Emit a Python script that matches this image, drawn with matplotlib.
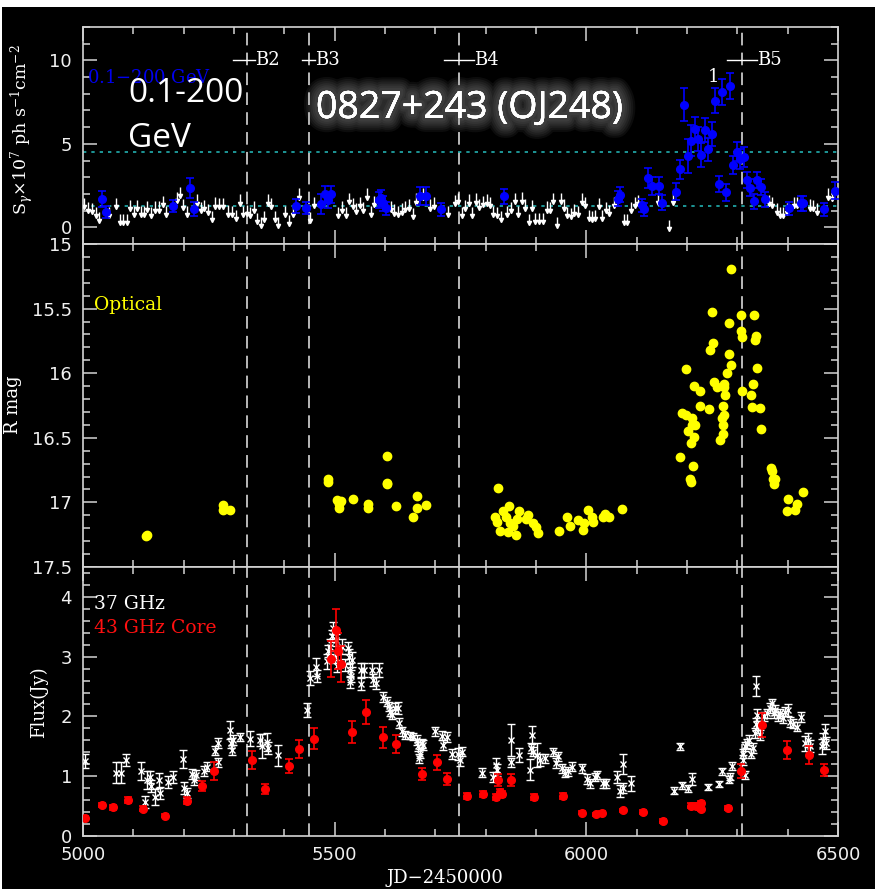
import matplotlib
matplotlib.use("Agg")
import matplotlib.pyplot as plt
import matplotlib.patheffects as pe
from matplotlib.patches import Rectangle
from matplotlib.ticker import MultipleLocator, FuncFormatter
import numpy as np

plt.rcParams['mathtext.fontset'] = 'dejavuserif'

# ---------------- gamma-ray (Fermi) detections ----------------
gam_jd = [5038, 5045, 5178, 5213, 5221, 5423, 5444, 5472, 5480, 5486,
          5492, 5588, 5593, 5597, 5601, 5669, 5682, 5711, 5836, 6062,
          6067, 6110, 6115, 6123, 6130, 6144, 6151, 6179, 6186, 6194,
          6201, 6207, 6215, 6221, 6228, 6235, 6242, 6249, 6256, 6263,
          6270, 6277, 6285, 6292, 6299, 6305, 6313, 6319, 6326, 6333,
          6340, 6347, 6354, 6403, 6426, 6431, 6473, 6495]
gam_s = [1.69, 0.92, 1.28, 2.35, 1.10, 1.27, 1.16, 1.42, 2.00, 1.63,
         1.97, 1.63, 1.75, 1.43, 1.13, 1.87, 1.87, 1.08, 1.87, 1.70,
         1.95, 1.32, 1.08, 2.97, 2.47, 2.49, 1.47, 2.13, 3.47, 7.35,
         4.28, 5.20, 5.88, 5.28, 4.34, 5.84, 4.68, 5.58, 7.59, 2.59,
         8.11, 2.09, 8.47, 3.73, 4.54, 4.08, 4.24, 2.83, 2.37, 1.55,
         2.83, 2.41, 1.69, 1.13, 1.43, 1.43, 1.07, 2.19]
gam_err = [0.48, 0.35, 0.35, 0.60, 0.40, 0.40, 0.35, 0.60, 0.50, 0.45,
           0.50, 0.50, 0.50, 0.45, 0.40, 0.55, 0.55, 0.40, 0.45, 0.45,
           0.45, 0.40, 0.40, 0.60, 0.55, 0.50, 0.45, 0.50, 0.55, 1.00,
           1.00, 0.90, 0.70, 0.70, 0.70, 0.70, 0.70, 0.70, 0.75, 0.50,
           0.80, 0.50, 0.80, 0.55, 0.55, 0.60, 0.60, 0.50, 0.50, 0.45,
           0.50, 0.50, 0.45, 0.40, 0.45, 0.45, 0.40, 0.50]

# gamma-ray upper limits
ul_jd = [5001, 5009, 5017, 5025, 5032, 5052, 5065, 5074, 5080, 5087,
         5093, 5101, 5108, 5115, 5122, 5128, 5136, 5143, 5150, 5158,
         5164, 5186, 5192, 5199, 5206, 5227, 5234, 5241, 5248, 5256,
         5262, 5270, 5278, 5289, 5297, 5304, 5312, 5318, 5325, 5332,
         5339, 5345, 5353, 5360, 5367, 5374, 5381, 5388, 5401, 5409,
         5417, 5430, 5451, 5458, 5507, 5514, 5522, 5529, 5536, 5542,
         5550, 5557, 5564, 5572, 5578, 5611, 5618, 5626, 5633, 5640,
         5647, 5655, 5662, 5675, 5689, 5697, 5725, 5739, 5746, 5752,
         5759, 5766, 5773, 5781, 5787, 5794, 5802, 5809, 5815, 5822,
         5830, 5842, 5850, 5858, 5864, 5872, 5879, 5886, 5892, 5899,
         5906, 5913, 5921, 5928, 5934, 5941, 5949, 5956, 5962, 5969,
         5976, 5984, 5991, 5997, 6005, 6011, 6018, 6026, 6032, 6039,
         6046, 6054, 6074, 6081, 6089, 6097, 6103, 6143, 6164, 6172,
         6362, 6368, 6378, 6385, 6391, 6398, 6413, 6418, 6444, 6451,
         6458, 6481, 6488]
ul_s = [1.77, 1.52, 1.48, 1.22, 0.92, 1.22, 1.77, 0.78, 0.78, 0.78,
        1.63, 1.27, 1.63, 1.27, 1.27, 1.57, 1.22, 1.55, 1.55, 1.87,
        1.27, 2.11, 2.43, 1.69, 1.29, 1.97, 1.52, 1.63, 1.41, 0.96,
        1.79, 1.77, 1.77, 1.31, 1.27, 1.06, 1.97, 1.27, 1.33, 1.22,
        1.55, 0.86, 0.62, 0.96, 1.97, 1.77, 0.96, 0.62, 1.27, 0.72,
        1.27, 2.33, 0.92, 1.83, 1.22, 1.55, 1.22, 2.07, 1.77, 1.47,
        1.83, 1.52, 2.33, 1.29, 1.87, 1.57, 1.37, 1.27, 1.43, 1.59,
        1.67, 1.16, 2.03, 2.33, 1.67, 1.79, 1.29, 1.93, 2.07, 1.22,
        1.63, 1.97, 1.22, 2.03, 1.69, 1.87, 1.97, 1.83, 1.29, 1.22,
        0.96, 1.29, 1.52, 2.07, 1.27, 2.09, 1.67, 0.82, 1.63, 0.88,
        0.88, 0.88, 1.55, 1.52, 2.07, 0.62, 2.07, 1.67, 1.22, 1.18,
        1.37, 1.27, 2.03, 1.83, 1.06, 0.96, 1.02, 1.77, 1.02, 1.52,
        1.33, 1.83, 0.82, 0.82, 1.53, 1.83, 1.93, 2.00, 0.42, 2.03,
        1.93, 1.83, 1.43, 1.22, 1.22, 1.43, 1.83, 1.83, 1.67, 1.63,
        1.43, 2.33, 2.23]

# ---------------- optical R band ----------------
opt_jd = [5125, 5127, 5279, 5279, 5293, 5486, 5486, 5504, 5509, 5509,
          5512, 5537, 5566, 5566, 5603, 5603, 5604, 5621, 5663, 5663,
          5656, 5681,
          5825, 5819, 5822, 5828, 5834, 5840, 5844, 5846, 5848, 5855,
          5860, 5862, 5866, 5881, 5885, 5895, 5900, 5903, 5945, 5961,
          5968, 5983, 5993, 5995, 6003, 6012, 6014, 6034, 6038, 6045,
          6070,
          6287, 6250, 6307, 6334, 6283, 6307, 6310, 6338, 6336, 6252,
          6246, 6283, 6287, 6198, 6340, 6279, 6254, 6214, 6259, 6274,
          6274, 6332, 6225, 6309, 6276, 6328, 6226, 6244, 6272, 6330,
          6345, 6190, 6199, 6210, 6273, 6269, 6209, 6216, 6271, 6348,
          6202, 6213, 6271, 6208, 6265, 6187, 6211, 6205, 6208, 6366,
          6368, 6370, 6374, 6372, 6431, 6401, 6418, 6398, 6415]
opt_r = [17.26, 17.25, 17.02, 17.06, 17.06, 16.82, 16.84, 16.98, 17.01, 17.04,
         16.99, 16.97, 17.01, 17.04, 16.64, 16.85, 16.86, 17.03, 16.95, 17.04,
         17.11, 17.02,
         16.89, 17.11, 17.15, 17.22, 17.07, 17.11, 17.23, 17.03, 17.16, 17.18,
         17.25, 17.13, 17.07, 17.13, 17.10, 17.16, 17.19, 17.24, 17.22, 17.11,
         17.18, 17.14, 17.21, 17.16, 17.06, 17.11, 17.15, 17.11, 17.09, 17.11,
         17.05,
         15.19, 15.53, 15.55, 15.55, 15.61, 15.67, 15.72, 15.71, 15.74, 15.77,
         15.82, 15.85, 15.94, 15.97, 15.96, 16.00, 16.07, 16.10, 16.11, 16.08,
         16.11, 16.08, 16.14, 16.14, 16.17, 16.17, 16.25, 16.28, 16.25, 16.26,
         16.27, 16.31, 16.32, 16.35, 16.32, 16.35, 16.40, 16.40, 16.40, 16.43,
         16.45, 16.49, 16.47, 16.54, 16.52, 16.65, 16.72, 16.82, 16.84, 16.73,
         16.76, 16.82, 16.82, 16.86, 16.92, 16.97, 17.01, 17.07, 17.06]

# ---------------- radio 37 GHz ----------------
f37_jd = [5003, 5065, 5075, 5085, 5115, 5123, 5127, 5133, 5136, 5143,
          5150, 5152, 5168, 5179, 5198, 5201, 5206, 5216, 5221, 5225,
          5241, 5246, 5262, 5268, 5269, 5293, 5294, 5297, 5299, 5312,
          5332, 5352, 5355, 5365, 5368, 5388, 5446, 5450, 5463, 5464,
          5484, 5487, 5491, 5494, 5497, 5501, 5503, 5504, 5514, 5521,
          5527, 5529, 5530, 5532, 5531, 5534, 5552, 5553, 5558, 5574,
          5576, 5583, 5588, 5597, 5603, 5607, 5610, 5613, 5620, 5626,
          5628, 5633, 5640, 5650, 5656, 5663, 5666, 5670, 5673, 5676,
          5668, 5699, 5713, 5716, 5723, 5733, 5746, 5749, 5752, 5792,
          5815, 5821, 5822, 5850, 5851, 5867, 5889, 5891, 5893, 5895,
          5901, 5908, 5918, 5934, 5939, 5944, 5951, 5958, 5964, 5971,
          5992, 6001, 6007, 6017, 6021, 6034, 6040, 6060, 6066, 6072,
          6073, 6088, 6174, 6186, 6191, 6201, 6209, 6242, 6264, 6270,
          6284, 6285, 6289, 6311, 6312, 6315, 6316, 6320, 6324, 6327,
          6331, 6335, 6337, 6338, 6340, 6342, 6345, 6352, 6358, 6365,
          6368, 6372, 6375, 6380, 6385, 6390, 6395, 6401, 6405, 6411,
          6418, 6426, 6434, 6441, 6444, 6468, 6471, 6474, 6476]
f37_flux = [1.25, 1.06, 1.06, 1.27, 1.09, 0.57, 0.94, 0.98, 0.83, 0.65,
            0.93, 0.72, 0.90, 0.99, 1.29, 0.80, 0.72, 1.04, 0.94, 1.02,
            1.09, 1.16, 1.43, 1.23, 1.56, 1.78, 1.56, 1.44, 1.61, 1.66,
            1.63, 1.61, 1.50, 1.58, 1.47, 1.35, 2.11, 2.64, 2.82, 2.68,
            2.92, 3.09, 3.17, 3.35, 3.48, 3.00, 3.28, 2.84, 3.17, 2.86,
            3.14, 3.00, 2.78, 2.67, 2.58, 2.95, 2.78, 2.54, 2.78, 2.78,
            2.61, 2.56, 2.78, 2.33, 2.25, 2.17, 2.08, 2.03, 2.14, 2.14,
            1.89, 1.75, 1.69, 1.68, 1.66, 1.61, 1.50, 1.38, 1.55, 1.52,
            1.30, 1.75, 1.68, 1.52, 1.66, 1.37, 1.37, 1.27, 1.41, 1.06,
            0.99, 1.19, 1.11, 1.61, 1.23, 1.35, 1.11, 1.47, 1.69, 1.41,
            1.36, 1.27, 1.30, 1.41, 1.22, 1.33, 1.13, 1.05, 1.08, 1.16,
            1.13, 0.95, 0.88, 0.99, 1.02, 0.88, 0.88, 0.99, 0.76, 1.20,
            0.80, 0.88, 0.76, 1.50, 0.85, 0.80, 0.95, 0.82, 0.87, 1.08,
            0.94, 0.99, 1.17, 1.27, 1.38, 1.02, 1.50, 1.55, 1.61, 1.38,
            1.47, 1.72, 2.51, 1.88, 2.03, 1.83, 1.69, 2.00, 2.05, 2.14,
            2.22, 2.05, 2.11, 2.00, 2.05, 1.97, 2.08, 2.11, 1.91, 1.88,
            1.83, 1.99, 1.55, 1.61, 1.50, 1.50, 1.61, 1.75, 1.55]
f37_err = [0.12, 0.17, 0.17, 0.10, 0.15, 0.10, 0.15, 0.10, 0.10, 0.13,
           0.12, 0.10, 0.10, 0.10, 0.15, 0.10, 0.08, 0.08, 0.08, 0.08,
           0.08, 0.08, 0.08, 0.08, 0.08, 0.15, 0.08, 0.08, 0.08, 0.07,
           0.12, 0.10, 0.20, 0.15, 0.10, 0.18, 0.12, 0.12, 0.15, 0.10,
           0.12, 0.10, 0.12, 0.10, 0.10, 0.10, 0.10, 0.10, 0.12, 0.10,
           0.10, 0.12, 0.12, 0.10, 0.10, 0.12, 0.12, 0.10, 0.12, 0.12,
           0.10, 0.10, 0.12, 0.08, 0.08, 0.08, 0.08, 0.08, 0.08, 0.10,
           0.08, 0.07, 0.06, 0.06, 0.06, 0.08, 0.08, 0.08, 0.08, 0.08,
           0.08, 0.07, 0.08, 0.08, 0.08, 0.08, 0.10, 0.10, 0.08, 0.07,
           0.08, 0.12, 0.10, 0.27, 0.08, 0.12, 0.18, 0.08, 0.15, 0.08,
           0.20, 0.10, 0.08, 0.07, 0.08, 0.08, 0.07, 0.07, 0.08, 0.07,
           0.07, 0.08, 0.08, 0.07, 0.07, 0.08, 0.08, 0.10, 0.10, 0.17,
           0.08, 0.12, 0.06, 0.06, 0.06, 0.06, 0.10, 0.05, 0.05, 0.06,
           0.06, 0.06, 0.06, 0.08, 0.08, 0.06, 0.08, 0.08, 0.08, 0.08,
           0.08, 0.08, 0.17, 0.10, 0.10, 0.10, 0.08, 0.08, 0.08, 0.08,
           0.08, 0.08, 0.08, 0.08, 0.08, 0.08, 0.08, 0.10, 0.08, 0.08,
           0.08, 0.08, 0.12, 0.12, 0.10, 0.12, 0.12, 0.12, 0.10]

# ---------------- 43 GHz core ----------------
f43_jd = [5004, 5038, 5059, 5090, 5120, 5163, 5206, 5236, 5261, 5336,
          5362, 5410, 5430, 5458, 5493, 5502, 5507, 5512, 5534, 5563,
          5597, 5621, 5673, 5703, 5724, 5763, 5795, 5820, 5824, 5829,
          5833, 5850, 5897, 5953, 5991, 6019, 6032, 6073, 6113, 6152,
          6208, 6217, 6227, 6228, 6282, 6307, 6349, 6398, 6442, 6473]
f43_flux = [0.30, 0.52, 0.48, 0.61, 0.46, 0.34, 0.59, 0.84, 1.09, 1.27,
            0.79, 1.17, 1.45, 1.63, 2.96, 3.44, 3.10, 2.88, 1.74, 2.08,
            1.65, 1.54, 1.04, 1.23, 0.95, 0.67, 0.70, 0.65, 0.94, 0.73,
            0.71, 0.94, 0.66, 0.67, 0.39, 0.36, 0.38, 0.43, 0.40, 0.25,
            0.51, 0.51, 0.55, 0.46, 0.47, 1.09, 1.86, 1.44, 1.36, 1.11]
f43_err = [0.03, 0.04, 0.04, 0.05, 0.04, 0.03, 0.06, 0.08, 0.15, 0.15,
           0.08, 0.12, 0.15, 0.17, 0.30, 0.35, 0.30, 0.30, 0.18, 0.20,
           0.18, 0.15, 0.10, 0.12, 0.10, 0.05, 0.05, 0.05, 0.10, 0.05,
           0.05, 0.10, 0.05, 0.05, 0.03, 0.03, 0.03, 0.03, 0.03, 0.03,
           0.04, 0.04, 0.04, 0.04, 0.04, 0.12, 0.20, 0.15, 0.15, 0.10]

# flare epochs (dashed lines) and their labels
flare_jd = [5326, 5449, 5747, 6310]
flare_names = ['B2', 'B3', 'B4', 'B5']

W_PX, H_PX = 875, 889
FG = '#d4d4d4'
SERIF = 'DejaVu Serif'

fig = plt.figure(figsize=(W_PX / 100, H_PX / 100), dpi=100, facecolor='white')
# black slide background, thin white margin top/left
fig.add_artist(Rectangle((2 / W_PX, 0), 1, 1 - 7 / H_PX, transform=fig.transFigure,
                         facecolor='black', edgecolor='none', zorder=-10))


def px_axes(top, bot):
    l, r = 83, 838
    return fig.add_axes([l / W_PX, 1 - bot / H_PX, (r - l) / W_PX, (bot - top) / H_PX])


ax1 = px_axes(27, 244)
ax2 = px_axes(244, 567)
ax3 = px_axes(567, 836)

for ax in (ax1, ax2, ax3):
    ax.set_facecolor('black')
    for s in ax.spines.values():
        s.set_color(FG)
        s.set_linewidth(1.2)
    ax.set_xlim(5000, 6500)
    ax.xaxis.set_major_locator(MultipleLocator(500))
    ax.xaxis.set_minor_locator(MultipleLocator(100))
    ax.tick_params(which='both', direction='in', top=True, right=True,
                   color=FG, labelcolor='#f0f0f0', labelsize=13, width=1.1)
    ax.tick_params(which='major', length=10)
    ax.tick_params(which='minor', length=5)
    ax.tick_params(axis='y', pad=8)
    ax.tick_params(axis='x', pad=7)
    for x in flare_jd:
        ax.axvline(x, color='#c8c8c8', lw=1.3, ls=(0, (7, 4)), zorder=1)

ax1.tick_params(labelbottom=False)
ax2.tick_params(labelbottom=False)
fmt = FuncFormatter(lambda v, p: '%g' % v)

# ---- top: gamma rays ----
ax1.set_ylim(-1, 12)
ax1.yaxis.set_major_locator(MultipleLocator(5))
ax1.yaxis.set_minor_locator(MultipleLocator(1))
ax1.yaxis.set_major_formatter(fmt)
for yl in (4.5, 1.3):
    ax1.axhline(yl, color='#22b0b0', lw=1.2, ls=(0, (2, 3)), zorder=2)
ul_x = np.array(ul_jd)
ul_y = np.array(ul_s)
ax1.vlines(ul_x, ul_y - 0.55, ul_y, color='white', lw=1.0, zorder=3)
ax1.plot(ul_x, ul_y - 0.55, ls='none', marker='v', ms=3, color='white', zorder=3)
ax1.errorbar(gam_jd, gam_s, yerr=gam_err, fmt='o', color='#0000ff', ms=5.5,
             capsize=3, elinewidth=1.2, capthick=1.2, zorder=4)

# "—Bn" flare markers: short bar then label
bar_left = {'B2': 28, 'B3': 14, 'B4': 30, 'B5': 30}
bar_right = {'B2': 16, 'B3': 12, 'B4': 30, 'B5': 30}
for x, name in zip(flare_jd, flare_names):
    x0, x1 = x - bar_left[name], x + bar_right[name]
    ax1.plot([x0, x1], [10, 10], color='white', lw=1.0, zorder=5)
    ax1.text(x1, 10, name, color='white', fontsize=13, family=SERIF,
             va='center', ha='left', zorder=5)
ax1.text(6252, 9.0, '1', color='white', fontsize=13, family=SERIF,
         ha='center', va='center')
ax1.text(5008, 8.95, r'0.1$-$200 GeV', color='#0000ee', fontsize=13,
         family=SERIF, va='center', ha='left')

# ---- middle: optical ----
ax2.set_ylim(17.5, 15)
ax2.yaxis.set_major_locator(MultipleLocator(0.5))
ax2.yaxis.set_minor_locator(MultipleLocator(0.1))
ax2.yaxis.set_major_formatter(fmt)
ax2.plot(opt_jd, opt_r, ls='none', marker='o', ms=6, color='#ffff00',
         mec='#ffff00', zorder=4)
ax2.text(0.014, 0.81, 'Optical', transform=ax2.transAxes, color='#ffff00',
         fontsize=13.5, family=SERIF, va='center', ha='left')

# ---- bottom: radio ----
ax3.set_ylim(0, 4.5)
ax3.yaxis.set_major_locator(MultipleLocator(1))
ax3.yaxis.set_minor_locator(MultipleLocator(0.2))
ax3.yaxis.set_major_formatter(fmt)
ax3.errorbar(f37_jd, f37_flux, yerr=f37_err, fmt='x', color='white', ms=4,
             mew=1.0, capsize=3, elinewidth=1.0, capthick=1.0, zorder=3)
ax3.errorbar(f43_jd, f43_flux, yerr=f43_err, fmt='o', color='#ff0000', ms=5.5,
             capsize=3, elinewidth=1.2, capthick=1.2, zorder=4)
ax3.text(0.014, 0.864, '37 GHz', transform=ax3.transAxes, color='white',
         fontsize=13.5, family=SERIF, va='center', ha='left')
ax3.text(0.014, 0.772, '43 GHz Core', transform=ax3.transAxes, color='#ff1010',
         fontsize=13.5, family=SERIF, va='center', ha='left')

# ---- axis titles ----
fig.text(22 / W_PX, 1 - 130 / H_PX, r'S$_\gamma$$\times$10$^7$ ph s$^{-1}$cm$^{-2}$',
         rotation=90, color='white', fontsize=12.5, family=SERIF,
         ha='center', va='center')
fig.text(13 / W_PX, 1 - 405 / H_PX, 'R mag', rotation=90, color='white',
         fontsize=13, family=SERIF, ha='center', va='center')
fig.text(39 / W_PX, 1 - 702 / H_PX, 'Flux(Jy)', rotation=90, color='white',
         fontsize=13, family=SERIF, ha='center', va='center')
fig.text(445 / W_PX, 1 - 878 / H_PX, 'JD\u22122450000', color='white',
         fontsize=13, family=SERIF, ha='center', va='center')

# ---- slide overlay text ----
fig.text(128 / W_PX, 1 - 102 / H_PX, '0.1-200', color='white', fontsize=24,
         family='Open Sans', ha='left', va='baseline')
fig.text(128 / W_PX, 1 - 147 / H_PX, 'GeV', color='white', fontsize=24,
         family='Open Sans', ha='left', va='baseline')
# soft halo: many faint strokes of decreasing width
glow = [pe.withStroke(linewidth=w, foreground='#b0b0b0', alpha=0.07)
        for w in (20, 17, 14, 11, 8, 5)] + [pe.Normal()]
fig.text(316 / W_PX, 1 - 118 / H_PX, '0827+243 (OJ248)', color='white',
         fontsize=27, family='Open Sans', ha='left', va='baseline',
         path_effects=glow)

fig.savefig('out.png', dpi=100, facecolor=fig.get_facecolor())
